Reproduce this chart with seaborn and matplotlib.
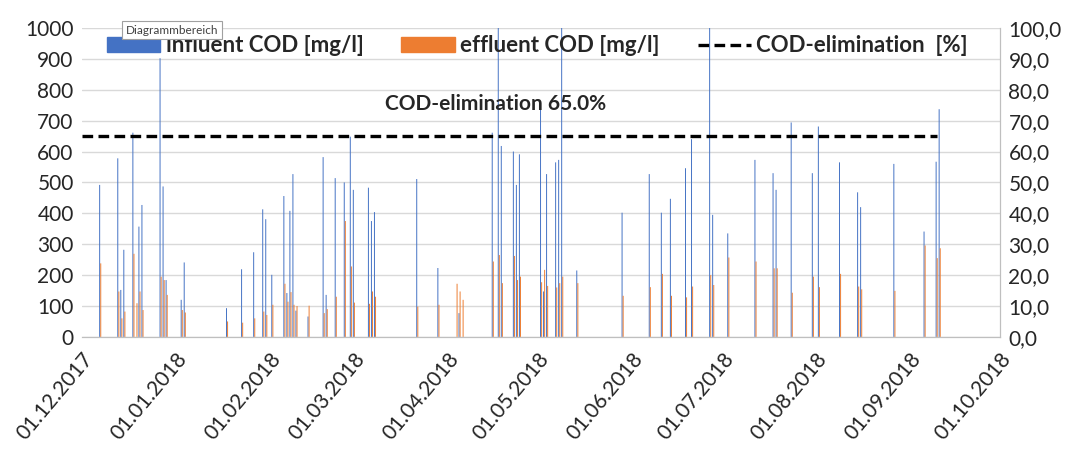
import matplotlib
matplotlib.use("Agg")
import matplotlib.dates as mdates
import matplotlib.pyplot as plt
import numpy as np
import pandas as pd
import seaborn as sns
from matplotlib.lines import Line2D
from matplotlib.patches import Patch
from matplotlib.ticker import FuncFormatter, MultipleLocator

# sampling days with influent / effluent COD [mg/l]
sample_dates = [
    "2017-12-07", "2017-12-13", "2017-12-14", "2017-12-15", "2017-12-18", "2017-12-19",
    "2017-12-20", "2017-12-21", "2017-12-27", "2017-12-28", "2017-12-29", "2018-01-03",
    "2018-01-04", "2018-01-18", "2018-01-23", "2018-01-27", "2018-01-30", "2018-01-31",
    "2018-02-02", "2018-02-06", "2018-02-07", "2018-02-08", "2018-02-09", "2018-02-10",
    "2018-02-14", "2018-02-19", "2018-02-20", "2018-02-23", "2018-02-26", "2018-02-28",
    "2018-03-01", "2018-03-06", "2018-03-07", "2018-03-08", "2018-03-22", "2018-03-29",
    "2018-04-04", "2018-04-05", "2018-04-06", "2018-04-16", "2018-04-18", "2018-04-19",
    "2018-04-23", "2018-04-24", "2018-04-25", "2018-05-02", "2018-05-03", "2018-05-04",
    "2018-05-07", "2018-05-08", "2018-05-09", "2018-05-14", "2018-05-29", "2018-06-07",
    "2018-06-11", "2018-06-14", "2018-06-19", "2018-06-21", "2018-06-27", "2018-06-28",
    "2018-07-03", "2018-07-12", "2018-07-18", "2018-07-19", "2018-07-24", "2018-07-31",
    "2018-08-02", "2018-08-09", "2018-08-15", "2018-08-16", "2018-08-27", "2018-09-06",
    "2018-09-10", "2018-09-11",
]
influent_cod = [
    492, 578, 152, 282, 661, 0,
    357, 427, 902, 487, 184, 120,
    241, 93, 219, 274, 413, 381,
    201, 456, 142, 408, 527, 85,
    66, 582, 136, 514, 500, 648,
    476, 483, 375, 404, 511, 223,
    0, 77, 0, 661, 1050, 618,
    600, 492, 591, 735, 147, 527,
    565, 573, 1050, 215, 402, 527,
    402, 447, 546, 640, 1050, 395,
    335, 573, 530, 476, 694, 530,
    681, 565, 468, 420, 560, 341,
    567, 737,
]
effluent_cod = [
    238, 147, 60, 82, 269, 109,
    147, 87, 195, 184, 136, 87,
    79, 50, 46, 60, 82, 71,
    104, 172, 114, 145, 104, 100,
    101, 77, 90, 130, 375, 228,
    111, 107, 147, 130, 98, 104,
    172, 147, 120, 244, 265, 174,
    262, 184, 195, 177, 217, 165,
    160, 174, 195, 174, 133, 161,
    204, 133, 128, 163, 200, 168,
    257, 244, 222, 222, 143, 195,
    161, 204, 163, 154, 149, 296,
    255, 287,
]

# average COD elimination [%]
elim_dates = ["2017-12-01", "2018-09-10"]
elim_values = [65.0, 65.0]

blue = "#4472C4"
orange = "#ED7D31"
grid_grey = "#D9D9D9"
axis_grey = "#BFBFBF"

sns.set_style("white")
plt.rcParams["font.family"] = ["Lato", "DejaVu Sans"]

df = pd.DataFrame({
    "date": pd.to_datetime(sample_dates),
    "influent": influent_cod,
    "effluent": effluent_cod,
})
elim = pd.DataFrame({"date": pd.to_datetime(elim_dates), "elimination": elim_values})

fig = plt.figure(figsize=(10.8, 4.51), dpi=100)
ax = fig.add_axes([0.076, 0.253, 0.850, 0.685])

x = mdates.date2num(df["date"])
ax.bar(x - 0.18, df["influent"], width=0.32, color=blue, linewidth=0, snap=False)
ax.bar(x + 0.18, df["effluent"], width=0.32, color=orange, linewidth=0, snap=False)

ax.set_xlim(pd.Timestamp("2017-12-01"), pd.Timestamp("2018-10-01"))
ax.set_ylim(0, 1000)
ax.yaxis.set_major_locator(MultipleLocator(100))
ax.grid(axis="y", color=grid_grey, linewidth=1)
ax.grid(axis="x", visible=False)
ax.set_axisbelow(True)

ax.xaxis.set_major_locator(mdates.MonthLocator())
ax.xaxis.set_major_formatter(mdates.DateFormatter("%d.%m.%Y"))
for lbl in ax.get_xticklabels():
    lbl.set_rotation(50)
    lbl.set_ha("right")
    lbl.set_rotation_mode("anchor")
ax.tick_params(axis="x", length=5, color=axis_grey, labelsize=15, pad=4)
ax.tick_params(axis="y", length=0, labelsize=15, pad=6)

ax2 = ax.twinx()
sns.lineplot(data=elim, x="date", y="elimination", ax=ax2, color="black",
             linewidth=2.4, linestyle=(0, (3.2, 1.6)), legend=False)
ax2.set_ylim(0, 100)
ax2.yaxis.set_major_locator(MultipleLocator(10))
ax2.yaxis.set_major_formatter(FuncFormatter(lambda v, p: f"{v:.1f}".replace(".", ",")))
ax2.tick_params(axis="y", length=0, labelsize=15, pad=6)
ax2.set_xlabel("")
ax2.set_ylabel("")
ax.set_xlabel("")
ax.set_ylabel("")

for a in (ax, ax2):
    a.spines["top"].set_visible(False)
    a.spines["left"].set_visible(False)
    a.spines["right"].set_color(axis_grey)
    a.spines["bottom"].set_color(axis_grey)

ax2.text(pd.Timestamp("2018-04-17"), 75.4,
         f"COD-elimination {elim_values[0]:.1f}%",
         ha="center", va="center", fontsize=15, fontweight="bold")

handles = [
    Patch(color=blue),
    Patch(color=orange),
    Line2D([0], [0], color="black", linewidth=2.4, linestyle=(0, (3.2, 1.6))),
]
labels = ["influent COD [mg/l]", "effluent COD [mg/l]", "COD-elimination  [%]"]
leg = ax2.legend(handles, labels, loc="center", bbox_to_anchor=(0.496, 0.942),
                 ncol=3, frameon=False, handlelength=2.4, handleheight=0.7,
                 columnspacing=1.7, handletextpad=0.25,
                 prop={"size": 16, "weight": "bold"})

fig.text(0.1165, 0.933, "Diagrammbereich", fontsize=8.5, color="#404040",
         ha="left", va="center",
         bbox=dict(boxstyle="square,pad=0.3", facecolor="white",
                   edgecolor="#A0A0A0", linewidth=0.8))

fig.savefig("out.png", dpi=100)
